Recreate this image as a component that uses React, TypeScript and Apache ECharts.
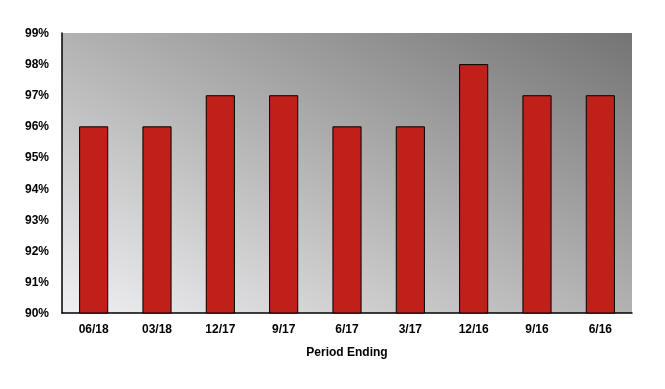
import React, { useEffect, useRef } from "react";
import * as echarts from "echarts";

const categories = ["06/18", "03/18", "12/17", "9/17", "6/17", "3/17", "12/16", "9/16", "6/16"];
const values = [96, 96, 97, 97, 96, 96, 98, 97, 97];
const axisName = "Period Ending";

export default function App() {
  const ref = useRef<HTMLDivElement>(null);
  useEffect(() => {
    const chart = echarts.init(ref.current!, null, { renderer: "svg" });
    chart.setOption({
      animation: false,
      grid: {
        left: 62,
        right: 33,
        top: 33,
        bottom: 76,
        show: true,
        borderWidth: 0,
        backgroundColor: new echarts.graphic.LinearGradient(0, 1, 1, 0, [
          { offset: 0, color: "#f0f0f2" },
          { offset: 1, color: "#747474" },
        ]),
      },
      xAxis: {
        type: "category",
        data: categories,
        name: axisName,
        nameLocation: "middle",
        nameGap: 33,
        nameTextStyle: { fontFamily: "Liberation Sans, Arial", fontWeight: "bold", fontSize: 12, color: "#000" },
        axisLine: { lineStyle: { color: "#000", width: 1.5 } },
        axisTick: { show: false },
        axisLabel: { fontFamily: "Liberation Sans, Arial", fontWeight: "bold", fontSize: 12, color: "#000", margin: 10 },
      },
      yAxis: {
        type: "value",
        min: 90,
        max: 99,
        interval: 1,
        axisLine: { show: true, lineStyle: { color: "#000", width: 1.5 } },
        axisTick: { show: false },
        splitLine: { show: false },
        axisLabel: {
          fontFamily: "Liberation Sans, Arial",
          fontWeight: "bold",
          fontSize: 12,
          color: "#000",
          margin: 13,
          formatter: (v: number) => v + "%",
        },
      },
      series: [
        {
          type: "bar",
          data: values,
          barWidth: "46%",
          itemStyle: { color: "#c1201a", borderColor: "#000", borderWidth: 1 },
        },
      ],
    });
    return () => chart.dispose();
  }, []);
  return <div ref={ref} style={{ position: "fixed", left: 0, top: 0, width: 665, height: 389 }} />;
}
